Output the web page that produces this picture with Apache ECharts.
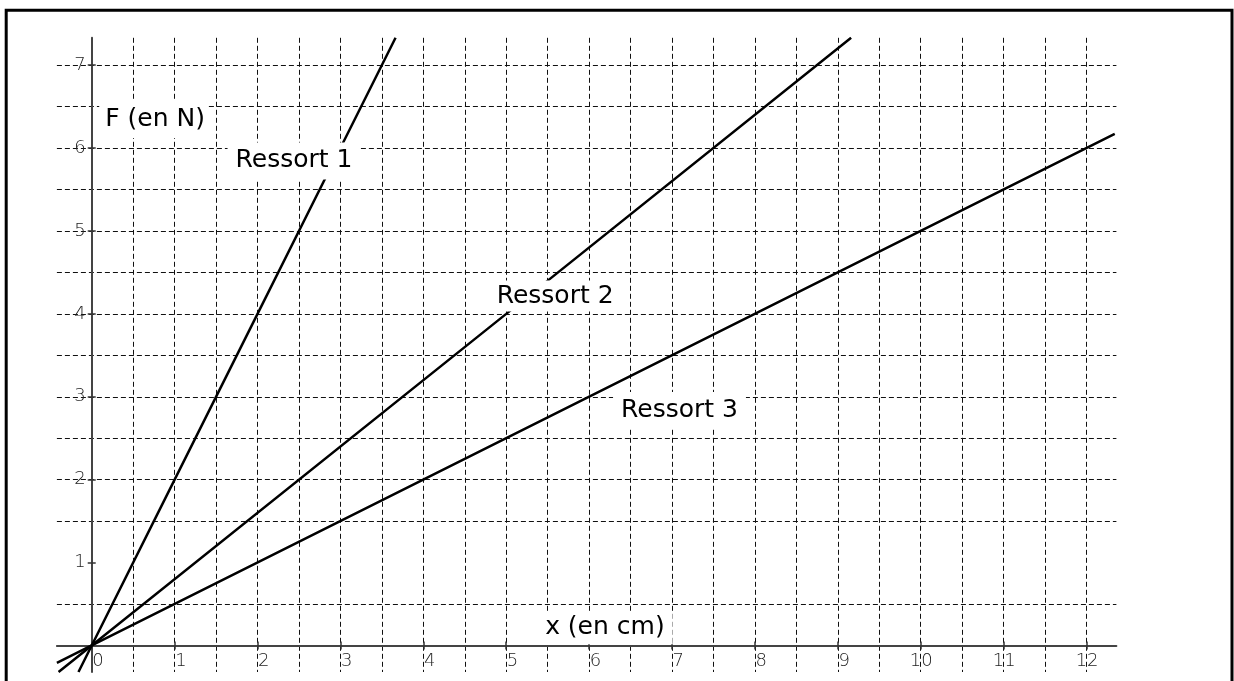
<!DOCTYPE html>
<html>
<head>
<meta charset="utf-8">
<script src="https://cdn.jsdelivr.net/npm/echarts@6/dist/echarts.min.js"></script>
<style>
  html, body { margin: 0; padding: 0; background: #fff; }
  #chart { width: 1234px; height: 681px; }
</style>
</head>
<body>
<div id="chart"></div>
<script>
// Axis tick labels
const xTicks = [0, 1, 2, 3, 4, 5, 6, 7, 8, 9, 10, 11, 12];
const yTicks = [1, 2, 3, 4, 5, 6, 7];

// Visible ranges of the axes
const xRange = [-0.42, 12.36];
const yRange = [-0.32, 7.33];

// Force F (N) versus elongation x (cm) for the three springs
const ressort1 = [[-0.16, -0.32], [0, 0], [1, 2], [2, 4], [3, 6], [3.665, 7.33]];
const ressort2 = [[-0.4, -0.32], [0, 0], [5, 4], [9.16, 7.33]];
const ressort3 = [[-0.42, -0.21], [0, 0], [10, 5], [12.34, 6.17]];

const curveNames = ['Ressort 1', 'Ressort 2', 'Ressort 3'];
const axisTitles = ['F (en N)', 'x (en cm)'];

const W = 1234, H = 681;
const grid = { left: 56.9, right: 117.6, top: 37.8, bottom: 9 };
const pxPerX = (W - grid.left - grid.right) / (xRange[1] - xRange[0]);
const pxPerY = (H - grid.top - grid.bottom) / (yRange[1] - yRange[0]);

// Shifts that bring each axis from the grid border onto the zero line
const xAxisShift = -(0 - yRange[0]) * pxPerY;   // bottom axis moved up
const yAxisShift = -(0 - xRange[0]) * pxPerX;   // left axis moved right
const xTopShift = -(yRange[1] - 0) * pxPerY;    // top mirror moved down
const yRightShift = -(xRange[1] - 0) * pxPerX;  // right mirror moved left

const chart = echarts.init(document.getElementById('chart'), null, { renderer: 'canvas' });

const gridDash = { color: '#111', width: 1, type: [5, 3] };
const tickStyle = { color: '#333', width: 1.5 };
const tickFont = { fontFamily: 'DejaVu Sans', fontSize: 18, fontWeight: 200, color: '#222' };

function mainAxis(range, ticks, shift, extraLabel) {
  return {
    type: 'value',
    min: range[0],
    max: range[1],
    minInterval: 1,
    maxInterval: 1,
    offset: shift,
    axisLine: { show: true, onZero: false, lineStyle: { color: '#444', width: 2 } },
    axisTick: { show: true, customValues: ticks, length: 4, lineStyle: tickStyle },
    axisLabel: Object.assign({ show: true, customValues: ticks }, tickFont, extraLabel),
    splitLine: { show: true, showMinLine: false, showMaxLine: true, lineStyle: gridDash },
    minorTick: { show: false, splitNumber: 2 },
    minorSplitLine: { show: true, lineStyle: gridDash }
  };
}

// Mirror axis that only draws the other half of each crossing tick
function tickAxis(range, ticks, position, shift) {
  return {
    type: 'value',
    position: position,
    min: range[0],
    max: range[1],
    minInterval: 1,
    maxInterval: 1,
    offset: shift,
    axisLine: { show: false, onZero: false },
    axisTick: { show: true, customValues: ticks, length: 4, lineStyle: tickStyle },
    axisLabel: { show: false },
    splitLine: { show: false }
  };
}

const lineStyle = { color: '#000', width: 2.5 };
function springSeries(name, data) {
  return {
    name: name,
    type: 'line',
    data: data,
    xAxisIndex: 0,
    yAxisIndex: 0,
    showSymbol: false,
    symbol: 'none',
    lineStyle: lineStyle,
    silent: true,
    animation: false,
    z: 3
  };
}

chart.setOption({
  animation: false,
  grid: Object.assign({ containLabel: false, outerBoundsMode: 'none' }, grid),
  xAxis: [
    mainAxis(xRange, xTicks, xAxisShift, { margin: 7, align: 'right', padding: [0, -12, 0, 0] }),
    tickAxis(xRange, xTicks, 'top', xTopShift)
  ],
  yAxis: [
    mainAxis(yRange, yTicks, yAxisShift, { margin: 6 }),
    tickAxis(yRange, yTicks, 'right', yRightShift)
  ],
  series: [
    springSeries(curveNames[0], ressort1),
    springSeries(curveNames[1], ressort2),
    springSeries(curveNames[2], ressort3)
  ]
});

// Annotations placed in data coordinates, on white boxes
const toPx = p => chart.convertToPixel({ xAxisIndex: 0, yAxisIndex: 0 }, p);
const textFont = '25px "DejaVu Sans"';
function note(text, at, pad) {
  const p = toPx(at);
  return {
    type: 'text',
    z: 50,
    silent: true,
    style: {
      text: text,
      x: p[0],
      y: p[1],
      font: textFont,
      fill: '#000',
      align: 'center',
      verticalAlign: 'middle',
      backgroundColor: '#fff',
      padding: pad || [6, 8, 6, 8]
    }
  };
}

chart.setOption({
  graphic: [
    {
      type: 'rect',
      z: 60,
      silent: true,
      shape: { x: 6.2, y: 10.3, width: 1225.8, height: 690 },
      style: { fill: 'none', stroke: '#000', lineWidth: 3 }
    },
    note(axisTitles[0], [0.74, 6.345], [6, 2, 6, 6]),
    note(curveNames[0], [2.44, 5.845]),
    note(curveNames[1], [5.59, 4.215], [4, 8, 2, 8]),
    note(curveNames[2], [7.09, 2.835]),
    note(axisTitles[1], [6.19, 0.215], [5, 8, 3, 8])
  ]
});
</script>
</body>
</html>
